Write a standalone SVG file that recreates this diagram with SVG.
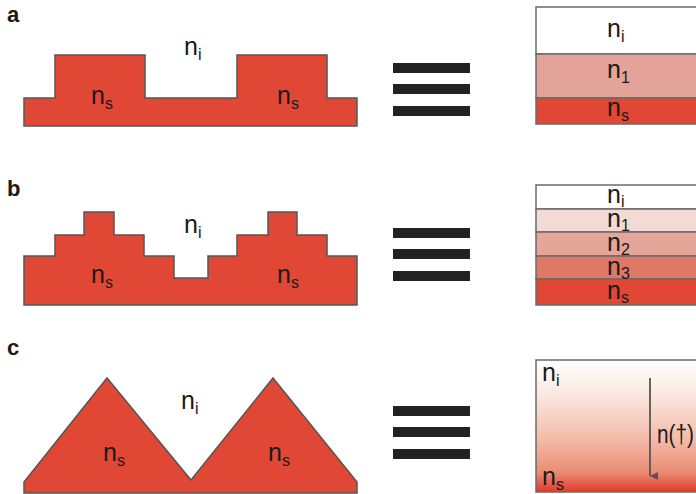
<svg xmlns="http://www.w3.org/2000/svg" width="696" height="494" viewBox="0 0 696 494">
  <defs>
    <style>
      .lbl { font-family: "Liberation Sans", Arial, sans-serif; font-weight: bold; font-size: 22px; fill: #1a1a1a; }
      .t { font-family: "Liberation Sans", Arial, sans-serif; font-size: 25px; fill: #1a1a1a; }
      .sub { font-size: 16px; }
      .shape { fill: #e04835; stroke: #555; stroke-width: 1.5; stroke-linejoin: miter; }
      .layer { stroke: #6a6a6a; stroke-width: 1.5; }
      .eq { fill: #222; }
    </style>
    <linearGradient id="grad" x1="0" y1="0" x2="0" y2="1">
      <stop offset="0" stop-color="#ffffff"/>
      <stop offset="0.25" stop-color="#fbe9e2"/>
      <stop offset="0.6" stop-color="#f3bba8"/>
      <stop offset="0.85" stop-color="#ea8c74"/>
      <stop offset="1" stop-color="#e03a28"/>
    </linearGradient>
    <marker id="arr" viewBox="0 0 10 10" refX="5" refY="10" markerWidth="8" markerHeight="8" markerUnits="userSpaceOnUse" orient="auto-start-reverse">
      <path d="M0,0 L10,0 L5,10 Z" fill="#555"/>
    </marker>
  </defs>

  <!-- Panel a -->
  <g id="panel-a-label"><text class="lbl" x="7" y="22">a</text></g>
  <g id="panel-a-grating">
    <polygon class="shape" points="24,126 24,98 55,98 55,55 145,55 145,98 237,98 237,55 327,55 327,98 357,98 357,126"/>
    <text class="t" x="184" y="55">n<tspan class="sub" dy="5">i</tspan></text>
    <text class="t" x="91" y="104">n<tspan class="sub" dy="5">s</tspan></text>
    <text class="t" x="277" y="104">n<tspan class="sub" dy="5">s</tspan></text>
  </g>
  <g id="panel-a-equiv">
    <rect class="eq" x="393" y="63" width="77" height="10"/>
    <rect class="eq" x="393" y="84" width="77" height="10"/>
    <rect class="eq" x="393" y="106" width="77" height="10"/>
  </g>
  <g id="panel-a-layers">
    <rect class="layer" x="536" y="7" width="200" height="47" fill="#ffffff"/>
    <rect class="layer" x="536" y="54" width="200" height="44" fill="#e3a398"/>
    <rect class="layer" x="536" y="98" width="200" height="26" fill="#e04835"/>
    <text class="t" x="607" y="37">n<tspan class="sub" dy="5">i</tspan></text>
    <text class="t" x="607" y="78">n<tspan class="sub" dy="5">1</tspan></text>
    <text class="t" x="607" y="116">n<tspan class="sub" dy="5">s</tspan></text>
  </g>

  <!-- Panel b -->
  <g id="panel-b-label"><text class="lbl" x="7" y="196">b</text></g>
  <g id="panel-b-grating">
    <polygon class="shape" points="24,305 24,256 55,256 55,235 84,235 84,212 114,212 114,235 144,235 144,256 174,256 174,278 208,278 208,256 237,256 237,235 268,235 268,212 297,212 297,235 327,235 327,256 357,256 357,305"/>
    <text class="t" x="184" y="233">n<tspan class="sub" dy="5">i</tspan></text>
    <text class="t" x="91" y="283">n<tspan class="sub" dy="5">s</tspan></text>
    <text class="t" x="277" y="283">n<tspan class="sub" dy="5">s</tspan></text>
  </g>
  <g id="panel-b-equiv">
    <rect class="eq" x="393" y="228" width="77" height="10"/>
    <rect class="eq" x="393" y="249" width="77" height="10"/>
    <rect class="eq" x="393" y="271" width="77" height="10"/>
  </g>
  <g id="panel-b-layers">
    <rect class="layer" x="536" y="185" width="200" height="24" fill="#ffffff"/>
    <rect class="layer" x="536" y="209" width="200" height="23" fill="#f3dad5"/>
    <rect class="layer" x="536" y="232" width="200" height="24" fill="#e5a599"/>
    <rect class="layer" x="536" y="256" width="200" height="23" fill="#e07866"/>
    <rect class="layer" x="536" y="279" width="200" height="26" fill="#e04835"/>
    <text class="t" x="607" y="203">n<tspan class="sub" dy="4">i</tspan></text>
    <text class="t" x="607" y="227">n<tspan class="sub" dy="4">1</tspan></text>
    <text class="t" x="607" y="251">n<tspan class="sub" dy="4">2</tspan></text>
    <text class="t" x="607" y="275">n<tspan class="sub" dy="4">3</tspan></text>
    <text class="t" x="607" y="299">n<tspan class="sub" dy="4">s</tspan></text>
  </g>

  <!-- Panel c -->
  <g id="panel-c-label"><text class="lbl" x="7" y="355">c</text></g>
  <g id="panel-c-grating">
    <polygon class="shape" points="24,493 24,482 107,378 191,480 273,378 357,482 357,493"/>
    <text class="t" x="181" y="409">n<tspan class="sub" dy="5">i</tspan></text>
    <text class="t" x="103" y="461">n<tspan class="sub" dy="5">s</tspan></text>
    <text class="t" x="268" y="461">n<tspan class="sub" dy="5">s</tspan></text>
  </g>
  <g id="panel-c-equiv">
    <rect class="eq" x="393" y="406" width="77" height="10"/>
    <rect class="eq" x="393" y="427" width="77" height="10"/>
    <rect class="eq" x="393" y="449" width="77" height="10"/>
  </g>
  <g id="panel-c-gradient">
    <rect class="layer" x="536" y="360" width="200" height="132" fill="url(#grad)"/>
    <text class="t" x="542" y="381">n<tspan class="sub" dy="5">i</tspan></text>
    <text class="t" x="542" y="485">n<tspan class="sub" dy="5">s</tspan></text>
    <text class="t" x="657" y="443" textLength="37" lengthAdjust="spacingAndGlyphs">n(†)</text>
  </g>
  <g id="connectors">
    <line x1="650" y1="378" x2="650" y2="476" stroke="#555" stroke-width="1.8" marker-end="url(#arr)"/>
  </g>
</svg>
